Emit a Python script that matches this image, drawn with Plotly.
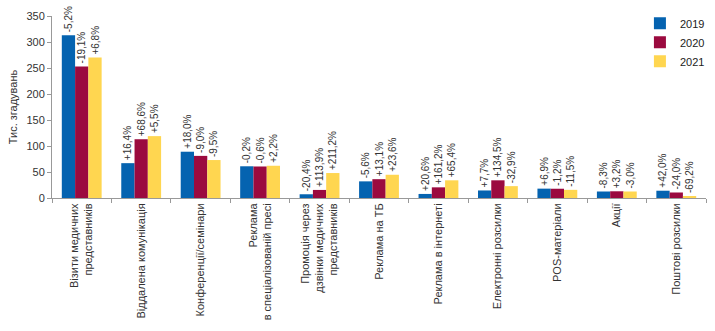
import plotly.graph_objects as go

categories = [
    "Візити медичних<br>представників",
    "Віддалена комунікація",
    "Конференції/семінари",
    "Реклама<br>в спеціалізованій пресі",
    "Промоція через<br>дзвінки медичних<br>представників",
    "Реклама на ТБ",
    "Реклама в інтернеті",
    "Електронні розсилки",
    "POS-матеріали",
    "Акції",
    "Поштові розсилки",
]
years = ["2019", "2020", "2021"]
v2019 = [313, 67, 89, 61, 7.2, 32, 7.8, 14.5, 18, 12.5, 14]
v2020 = [253, 113, 81, 60.6, 15.5, 36.2, 20.5, 34, 17.8, 12.9, 10.6]
v2021 = [270, 119, 73, 62, 48, 44.7, 34, 22.8, 15.7, 12.5, 3.3]
p2019 = ["-5,2%", "+16,4%", "+18,0%", "-0,2%", "-20,4%", "-5,6%", "+20,6%", "+7,7%", "+6,9%", "-8,3%", "+42,0%"]
p2020 = ["-19,1%", "+68,6%", "-9,0%", "-0,6%", "+113,9%", "+13,1%", "+161,2%", "+134,5%", "-1,2%", "+3,2%", "-24,0%"]
p2021 = ["+6,8%", "+5,5%", "-9,5%", "+2,2%", "+211,2%", "+23,6%", "+65,4%", "-32,9%", "-11,5%", "-3,0%", "-69,2%"]
colors = ["#0563B0", "#9B0A3F", "#FFD650"]

fig = go.Figure()
for name, vals, txt, c in zip(years, [v2019, v2020, v2021], [p2019, p2020, p2021], colors):
    fig.add_trace(go.Bar(
        name=name, x=categories, y=vals, text=txt,
        marker=dict(color=c, line=dict(width=0)),
        textposition="outside", textangle=-90, constraintext="none",
        cliponaxis=False,
        textfont=dict(size=10, color="#333333", family="Liberation Sans"),
    ))

fig.update_layout(
    width=715, height=331,
    margin=dict(l=52, r=5, t=16, b=133),
    barmode="group", bargap=0.33, bargroupgap=0,
    plot_bgcolor="white", paper_bgcolor="white",
    font=dict(family="Liberation Sans", size=11, color="#333333"),
    legend=dict(x=1.006, y=1.04, xanchor="right", yanchor="top",
                font=dict(size=11, color="#222222"), itemwidth=30,
                tracegroupgap=0, bgcolor="rgba(0,0,0,0)"),
    showlegend=True,
)
fig.update_yaxes(
    range=[0, 350], dtick=50, showgrid=False, showline=True,
    linecolor="#999999", linewidth=1, ticks="outside", ticklen=4,
    tickcolor="#999999", tickfont=dict(size=11, color="#333333"),
    title=dict(text="Тис. згадувань", font=dict(size=11, color="#333333"), standoff=6),
    zeroline=False,
)
fig.update_xaxes(
    showgrid=False, showline=True, linecolor="#999999", linewidth=1,
    ticks="outside", tickson="boundaries", ticklen=4, tickcolor="#999999",
    tickangle=-90, tickfont=dict(size=11, color="#333333"),
)

fig.write_html("out.html")
